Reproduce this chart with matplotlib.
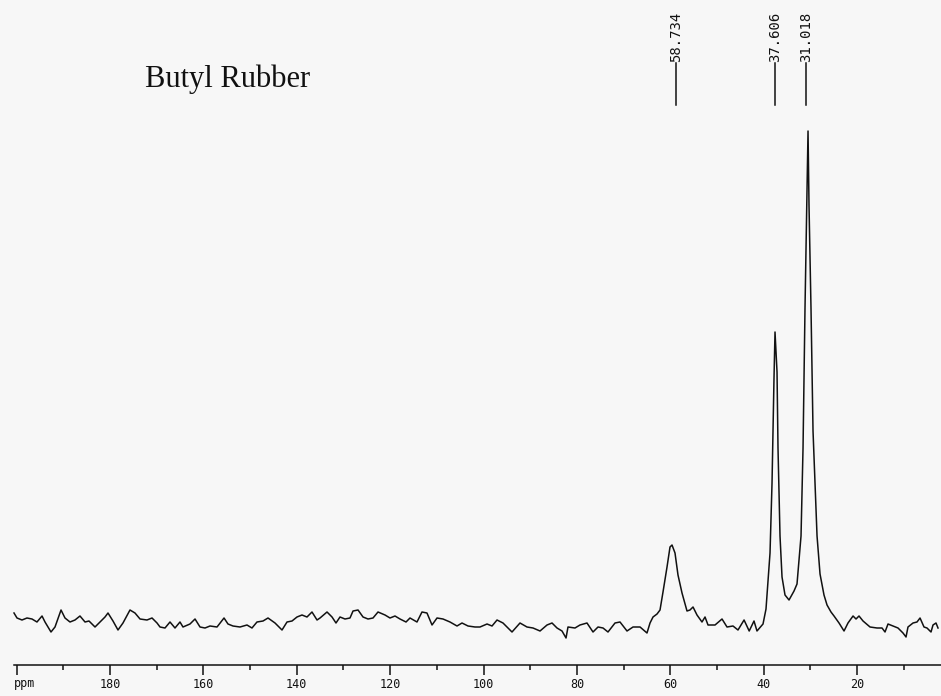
import numpy as np
import matplotlib.pyplot as plt

# 13C NMR spectrum of butyl rubber (ppm, relative intensity)
ppm = [200.56, 199.92, 198.85, 197.78, 196.71, 195.64, 194.56, 193.92, 192.64, 191.78,
       190.49, 189.64, 188.57, 187.50, 186.43, 185.35, 184.50, 183.21, 182.14, 181.07,
       180.43, 179.36, 178.29, 177.22, 175.72, 174.65, 173.57, 172.08, 171.00, 169.93,
       169.29, 168.22, 167.15, 166.08, 165.01, 164.37, 162.87, 161.79, 160.72, 159.65,
       158.58, 157.08, 155.58, 154.73, 153.66, 152.16, 150.66, 149.59, 148.52, 147.23,
       146.16, 144.66, 143.16, 142.09, 141.02, 139.95, 138.88, 137.81, 136.74, 135.66,
       135.02, 133.52, 132.45, 131.60, 130.74, 129.67, 128.60, 127.95, 126.88, 125.81,
       124.74, 123.67, 122.60, 121.10, 120.03, 118.96, 117.89, 116.60, 115.75, 114.25,
       113.18, 112.11, 111.03, 109.96, 108.68, 107.18, 105.68, 104.61, 103.32, 101.82,
       100.75, 99.25, 98.18, 97.11, 95.83, 93.90, 92.19, 90.69, 89.40, 87.90,
       86.40, 85.33, 84.26, 83.19, 82.33, 81.91, 80.41, 79.34, 77.84, 76.55,
       75.48, 74.41, 73.34, 71.84, 70.77, 69.27, 67.98, 66.48, 64.99, 64.34,
       63.70, 62.84, 62.20, 61.56, 60.70, 60.06, 59.63, 58.99, 58.35, 57.49,
       56.42, 55.78, 55.13, 54.28, 53.21, 52.56, 51.92, 50.42, 48.92, 47.85,
       46.57, 45.50, 44.20, 43.10, 42.07, 41.43, 40.14, 39.50, 38.64, 38.21,
       37.79, 37.57, 37.14, 36.93, 36.50, 36.07, 35.43, 34.57, 33.50, 32.86,
       32.00, 31.57, 31.15, 30.72, 30.50, 30.29, 29.86, 29.43, 28.57, 27.93,
       27.08, 26.43, 25.58, 24.93, 23.86, 22.79, 21.94, 20.86, 20.22, 19.58,
       18.72, 17.22, 15.72, 14.65, 14.01, 13.37, 12.30, 11.23, 10.16, 9.51,
       9.09, 8.01, 7.16, 6.51, 5.66, 5.02, 4.16, 3.73, 3.09, 2.66]
intensity = [12, 7, 5, 7, 6, 3, 9, 3, -7, -2,
             15, 7, 3, 5, 9, 3, 4, -2, 3, 8,
             12, 4, -5, 2, 15, 12, 6, 5, 7, 2,
             -2, -3, 3, -3, 3, -2, 1, 6, -2, -3,
             -1, -2, 7, 1, -1, -2, 0, -3, 3, 4,
             7, 2, -5, 3, 4, 8, 10, 8, 13, 5,
             7, 13, 8, 2, 8, 6, 7, 14, 15, 8,
             6, 7, 13, 10, 7, 9, 6, 3, 7, 3,
             13, 12, 0, 7, 6, 3, -1, 2, -1, -2,
             -2, 1, -1, 5, 2, -7, 2, -2, -3, -6,
             0, 2, -3, -6, -13, -2, -3, 0, 2, -7,
             -2, -3, -7, 2, 3, -6, -2, -2, -8, 2,
             8, 11, 15, 33, 58, 78, 80, 72, 50, 32,
             14, 15, 18, 10, 3, 8, 0, 0, 6, -2,
             -1, -5, 5, -6, 4, -6, 1, 16, 72, 142,
             246, 293, 253, 177, 89, 48, 30, 25, 34, 41,
             89, 177, 316, 438, 494, 420, 316, 194, 89, 51,
             30, 20, 13, 9, 2, -6, 2, 9, 6, 9,
             4, -2, -3, -3, -7, 1, -1, -3, -8, -12,
             -2, 2, 3, 7, -2, -3, -7, 0, 2, -3]

peak_labels = ['58.734', '37.606', '31.018']
peak_pos = [58.734, 37.606, 31.018]

major_ticks = [200, 180, 160, 140, 120, 100, 80, 60, 40, 20]
major_labels = ['', '180', '160', '140', '120', '100', '80', '60', '40', '20']
minor_ticks = [190, 170, 150, 130, 110, 90, 70, 50, 30, 10]

bg = '#f7f7f7'
ink = '#111111'

fig = plt.figure(figsize=(9.41, 6.96), dpi=100)
fig.patch.set_facecolor(bg)
ax = fig.add_axes([0, 0, 1, 1])
ax.set_facecolor(bg)

ax.plot(ppm, intensity, color=ink, lw=1.1)

ax.set_xlim(203.56, 2.02)
ax.set_ylim(-71, 625)

# ppm scale along the bottom, like the plotter output
for s in ['top', 'left', 'right']:
    ax.spines[s].set_visible(False)
ax.spines['bottom'].set_position(('data', -40))
ax.spines['bottom'].set_bounds(200.6, 2.02)
ax.spines['bottom'].set_color(ink)
ax.spines['bottom'].set_linewidth(1.1)
ax.set_yticks([])
ax.set_xticks(major_ticks)
ax.set_xticklabels(major_labels, family='DejaVu Sans Mono', fontsize=8.5)
ax.set_xticks(minor_ticks, minor=True)
ax.tick_params(axis='x', which='major', direction='out', length=7.5, width=1.1,
               color=ink, pad=1.5, labelcolor=ink)
ax.tick_params(axis='x', which='minor', direction='out', length=3.5, width=1.1, color=ink)
ax.text(200.6, -59, 'ppm', family='DejaVu Sans Mono', fontsize=8.5, color=ink,
        ha='left', va='center')

# peak picking markers
for lab, p in zip(peak_labels, peak_pos):
    ax.plot([p, p], [520, 562], color=ink, lw=1.1)
    ax.text(p, 563, lab, rotation=90, ha='center', va='bottom',
            family='DejaVu Sans Mono', fontsize=10, color=ink)

ax.text(172.5, 538, 'Butyl Rubber', family='Liberation Serif', fontsize=22,
        color=ink, ha='left', va='baseline')

plt.savefig('out.png', dpi=100, facecolor=bg)
